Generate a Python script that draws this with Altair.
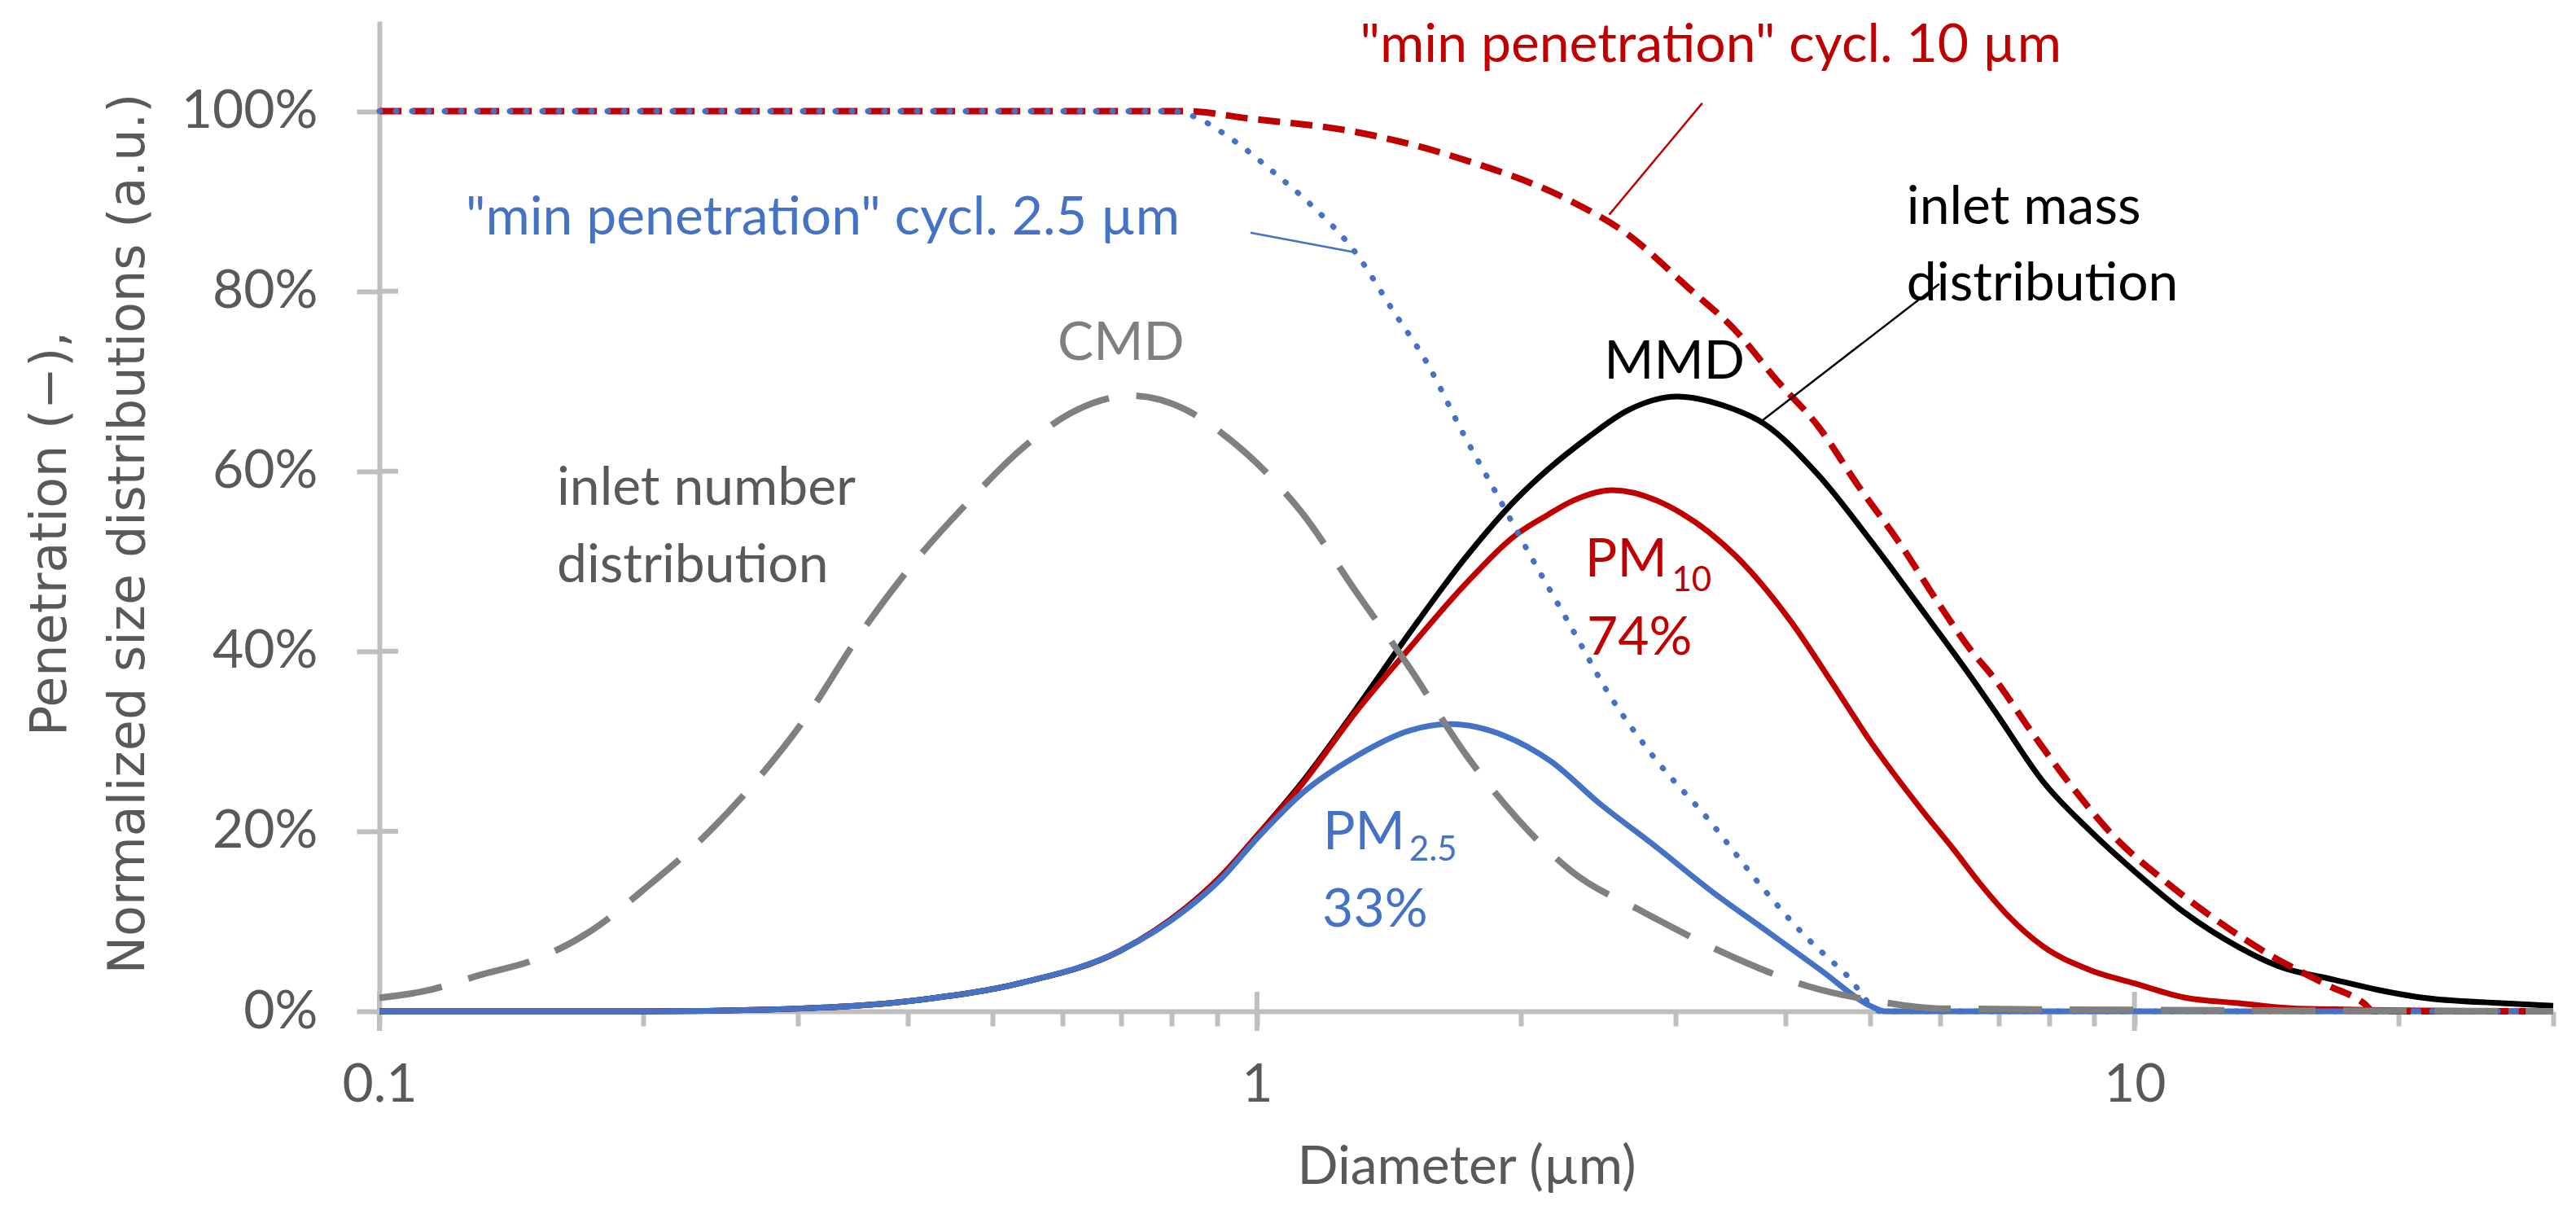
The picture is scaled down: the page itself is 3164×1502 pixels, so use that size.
import altair as alt
import pandas as pd

# ---- curves (diameter in µm, fraction) ----
mass_d = [0.1, 0.2, 0.28, 0.407, 0.541, 0.698, 0.83, 0.91, 1.0, 1.125, 1.295, 1.494, 1.722, 1.984,
          2.14, 2.38, 2.65, 3.01, 3.40, 3.78, 4.36, 5.03, 5.80, 6.5, 6.97, 7.87, 8.89, 10, 11.39,
          13.14, 14.6, 16.9, 18.9, 21.2, 26.2, 30]
mass_v = [0, 0, 0.002, 0.012, 0.032, 0.067, 0.115, 0.15, 0.195, 0.254, 0.335, 0.421, 0.502, 0.571,
          0.601, 0.637, 0.668, 0.683, 0.673, 0.653, 0.596, 0.52, 0.4385, 0.3725, 0.33, 0.255, 0.201,
          0.1555, 0.11, 0.0714, 0.05, 0.035, 0.024, 0.0154, 0.009, 0.006]

pm10_d = [0.1, 0.2, 0.28, 0.407, 0.541, 0.698, 0.83, 0.91, 1.0, 1.125, 1.295, 1.494, 1.722, 1.984,
          2.14, 2.3, 2.54, 3.05, 3.52, 4.06, 4.55, 5.0, 5.74, 6.22, 6.68, 7.18, 7.87, 8.89, 10, 11.39,
          13.14, 15.4, 30]
pm10_v = [0, 0, 0.002, 0.012, 0.032, 0.067, 0.115, 0.15, 0.195, 0.252, 0.332, 0.404, 0.473, 0.531,
          0.551, 0.568, 0.579, 0.553, 0.505, 0.433, 0.361, 0.30, 0.222, 0.18, 0.141, 0.106, 0.072,
          0.046, 0.031, 0.0154, 0.009, 0.003, 0]

pm25_d = [0.1, 0.2, 0.28, 0.407, 0.541, 0.698, 0.83, 0.91, 1.0, 1.125, 1.295, 1.494, 1.66, 1.92,
          2.16, 2.456, 2.83, 3.3, 3.8, 4.4, 5.0, 5.2, 30]
pm25_v = [0, 0, 0.002, 0.012, 0.032, 0.067, 0.113, 0.147, 0.192, 0.242, 0.283, 0.312, 0.319, 0.3056,
          0.278, 0.231, 0.185, 0.133, 0.09, 0.045, 0.006, 0, 0]

pen25_d = [0.1, 0.8, 0.843, 0.936, 1.048, 1.158, 1.295, 1.43, 1.56, 1.722, 1.87, 2.03, 2.28, 2.52,
           2.83, 3.27, 3.8, 4.2, 4.7, 5.15, 30]
pen25_v = [1, 1, 0.995, 0.969, 0.931, 0.894, 0.843, 0.778, 0.7215, 0.64, 0.577, 0.5135, 0.427, 0.352,
           0.283, 0.213, 0.133, 0.085, 0.04, 0, 0]

pen10_d = [0.1, 0.83, 0.977, 1.295, 1.722, 2.28, 2.63, 3.10, 3.52, 3.92, 4.36, 4.85, 5.40, 6.0, 6.5,
           6.92, 7.65, 8.45, 9.48, 10.85, 12.41, 14.3, 16.6, 18.3, 18.7, 30]
pen10_v = [1, 1, 0.992, 0.977, 0.946, 0.9, 0.865, 0.804, 0.755, 0.70, 0.65, 0.583, 0.52, 0.451, 0.402,
           0.37, 0.309, 0.252, 0.194, 0.144, 0.101, 0.062, 0.029, 0.008, 0, 0]

cmd_d = [0.1, 0.112, 0.131, 0.151, 0.174, 0.2005, 0.231, 0.266, 0.306, 0.353, 0.407, 0.468, 0.541,
         0.623, 0.718, 0.827, 0.91, 0.977, 1.125, 1.295, 1.494, 1.722, 1.984, 2.28, 2.76, 3.59, 4.24,
         5.1, 6.0, 30]
cmd_v = [0.015, 0.022, 0.041, 0.058, 0.089, 0.136, 0.188, 0.251, 0.326, 0.419, 0.499, 0.565, 0.626,
         0.668, 0.684, 0.669, 0.643, 0.618, 0.554, 0.467, 0.381, 0.288, 0.213, 0.156, 0.11, 0.055, 0.028,
         0.011, 0.003, 0]

# ---- axis ticks ----
y_ticks = [0, 0.2, 0.4, 0.6, 0.8, 1.0]
x_major = [0.1, 1, 10]
x_ticks = [0.1, 0.2, 0.3, 0.4, 0.5, 0.6, 0.7, 0.8, 0.9, 1, 2, 3, 4, 5, 6, 7, 8, 9, 10, 20, 30]

# ---- annotations ----
center_text = ['"min penetration" cycl. 10 µm', '"min penetration" cycl. 2.5 µm', 'CMD', 'MMD']
center_d = [3.29, 0.320, 0.700, 2.99]
center_v = [1.055, 0.8626, 0.724, 0.7025]
center_color = ['#C00000', '#4472C4', '#7F7F7F', '#000000']

left_text = ['inlet number', 'distribution', 'inlet mass', 'distribution', 'PM', '74%', 'PM', '33%']
left_d = [0.1593, 0.1593, 5.50, 5.50, 2.365, 2.376, 1.189, 1.187]
left_v = [0.563, 0.477, 0.875, 0.790, 0.483, 0.396, 0.180, 0.094]
left_color = ['#595959', '#595959', '#000000', '#000000', '#C00000', '#C00000', '#4472C4', '#4472C4']

sub_text = ['10', '2.5']
sub_d = [2.97, 1.491]
sub_v = [0.4665, 0.167]
sub_color = ['#C00000', '#4472C4']

# leader lines (start -> end)
lead_d = [0.983, 3.217, 5.99]
lead_v = [0.865, 1.009, 0.808]
lead_d2 = [1.295, 2.52, 3.75]
lead_v2 = [0.843, 0.885, 0.655]
lead_color = ['#4472C4', '#C00000', '#000000']

W, H = 2670, 1216
AXIS_GREY = '#BFBFBF'
TEXT_GREY = '#595959'

x_scale = alt.Scale(type='log', domain=[0.1, 30], nice=False)
y_scale = alt.Scale(domain=[0, 1.1], nice=False, zero=False)

x_axis = alt.Axis(
    values=x_ticks, format='~g',
    labelExpr="(datum.value == 0.1 || datum.value == 1 || datum.value == 10) ? datum.label : ''",
    tickSize=18, tickWidth=6, tickColor=AXIS_GREY, domainColor=AXIS_GREY, domainWidth=6,
    labelFont='Lato', labelFontSize=66, labelColor=TEXT_GREY, labelPadding=40,
    labelFlush=False, labelOverlap=False, grid=False,
    title='Diameter (µm)', titleFont='Lato', titleFontSize=66, titleFontWeight='normal',
    titleColor=TEXT_GREY, titleY=211, titleBaseline='alphabetic',
)
y_axis = alt.Axis(
    values=y_ticks, format='.0%',
    tickSize=28, tickWidth=6, tickColor=AXIS_GREY, domainColor=AXIS_GREY, domainWidth=6,
    labelFont='Lato', labelFontSize=66, labelColor=TEXT_GREY, labelPadding=48,
    labelOverlap=False, grid=False,
    title=['Penetration (−),', 'Normalized size distributions (a.u.)'],
    titleFont='DejaVu Sans', titleFontSize=62, titleFontWeight='normal', titleColor=TEXT_GREY,
    titleAngle=270, titleX=-386, titleY=629, titleAlign='center', titleBaseline='alphabetic',
    titleLineHeight=96,
)

X = alt.X('d:Q', scale=x_scale, axis=x_axis)
Y = alt.Y('v:Q', scale=y_scale, axis=y_axis)


def curve(d, v, color, width, dash=None, cap='butt'):
    kw = dict(color=color, strokeWidth=width, interpolate='monotone', strokeCap=cap)
    if dash:
        kw['strokeDash'] = dash
    return alt.Chart(pd.DataFrame({'d': d, 'v': v})).mark_line(**kw).encode(x=X, y=Y)


def labels(text, d, v, color, align, size):
    df = pd.DataFrame({'t': text, 'd': d, 'v': v, 'c': color})
    return alt.Chart(df).mark_text(
        font='Lato', fontSize=size, align=align, baseline='alphabetic'
    ).encode(x=X, y=Y, text='t:N', color=alt.Color('c:N', scale=None))


mass = curve(mass_d, mass_v, '#000000', 7)
pm10 = curve(pm10_d, pm10_v, '#C00000', 7)
pm25 = curve(pm25_d, pm25_v, '#4472C4', 7)
pen10 = curve(pen10_d, pen10_v, '#C00000', 8, dash=[27, 13])
pen25 = curve(pen25_d, pen25_v, '#4472C4', 7, dash=[1, 19], cap='round')
cmd = curve(cmd_d, cmd_v, '#808080', 8, dash=[78, 34])

# inner halves of the crossing major ticks
y_cross = alt.Chart(pd.DataFrame({'v': y_ticks})).mark_rule(
    color=AXIS_GREY, strokeWidth=6
).encode(y=Y, x=alt.value(0), x2=alt.value(23))
x_cross = alt.Chart(pd.DataFrame({'d': x_major})).mark_rule(
    color=AXIS_GREY, strokeWidth=6
).encode(x=X, y=alt.value(H - 24), y2=alt.value(H + 24))

leaders = alt.Chart(pd.DataFrame({
    'd': lead_d, 'v': lead_v, 'd2': lead_d2, 'v2': lead_v2, 'c': lead_color
})).mark_rule(strokeWidth=2.5).encode(
    x=X, y=Y, x2='d2:Q', y2='v2:Q', color=alt.Color('c:N', scale=None)
)

txt_center = labels(center_text, center_d, center_v, center_color, 'center', 66)
txt_left = labels(left_text, left_d, left_v, left_color, 'left', 66)
txt_sub = labels(sub_text, sub_d, sub_v, sub_color, 'left', 42)

chart = alt.layer(
    y_cross, x_cross, mass, pm10, pm25, pen10, pen25, cmd,
    leaders, txt_center, txt_left, txt_sub
).properties(
    width=W, height=H,
    autosize=alt.AutoSizeParams(type='none'),
    padding={'left': 458, 'top': 18, 'right': 12, 'bottom': 244},
    background='white',
).configure_view(stroke=None)

chart.save('out.html', embed_options={'renderer': 'svg', 'actions': False})
